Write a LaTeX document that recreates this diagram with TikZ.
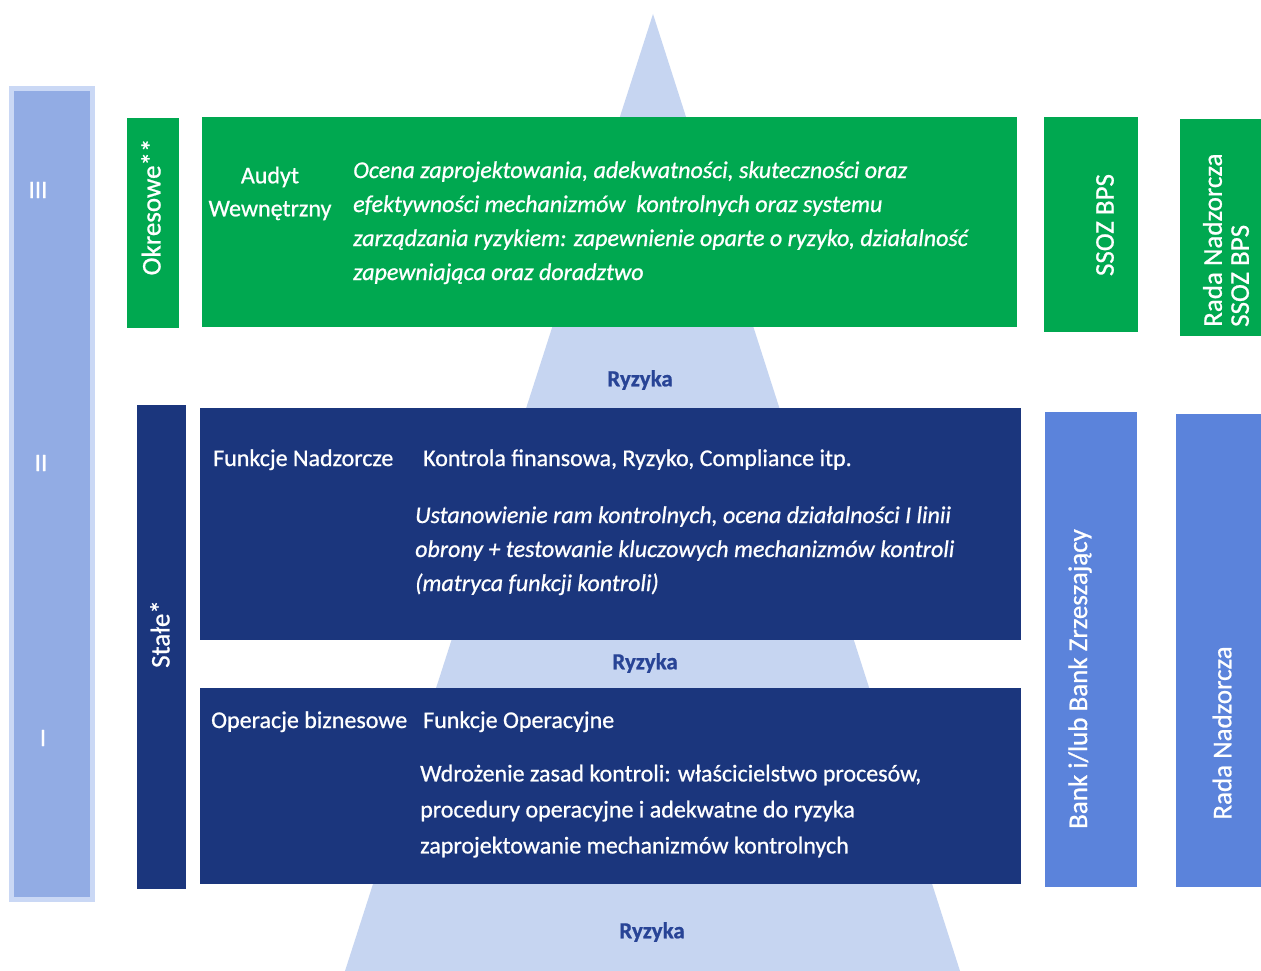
\documentclass[tikz,border=0pt]{standalone}
\usepackage{fontspec}
\setmainfont{Carlito}[FakeBold=0.8]
\definecolor{cgreen}{RGB}{0,168,80}
\definecolor{cnavy}{RGB}{27,54,125}
\definecolor{cmid}{RGB}{91,131,219}
\definecolor{cbar}{RGB}{146,172,228}
\definecolor{cbarb}{RGB}{202,216,245}
\definecolor{cpyr}{RGB}{198,213,241}
\definecolor{cryz}{RGB}{40,68,150}
\begin{document}
\begin{tikzpicture}[x=1pt,y=-1pt,
  box/.style={rectangle, inner sep=0pt, outer sep=0pt, anchor=north west},
  wtxt/.style={text=white, inner sep=0pt, font=\fontsize{24}{34}\selectfont},
  rtxt/.style={text=white, inner sep=0pt, rotate=90, font=\fontsize{27}{27}\selectfont},
  ryz/.style={text=cryz, inner sep=0pt, font=\fontsize{23}{28}\selectfont\bfseries},
  roman/.style={text=white, inner sep=0pt, font=\fontsize{25}{28}\selectfont}]
\useasboundingbox (0,0) rectangle (1261,971);
\fill[white] (0,0) rectangle (1261,971);
% pyramid
\coordinate (apex) at (653,14);
\coordinate (bl) at (345,971);
\coordinate (br) at (960,971);
\fill[cpyr] (apex) -- (br) -- (bl) -- cycle;
% left level bar
\node[box, anchor=center, fill=cbar, draw=cbarb, line width=5pt, minimum width=81pt, minimum height=811pt] (lines) at (52,494) {};
\node[roman] (l3) at (38,190) {III};
\node[roman] (l2) at (41,463) {II};
\node[roman] (l1) at (43,738) {I};
% green row
\node[box, fill=cgreen, minimum width=52pt, minimum height=210pt] (okres) at (127,118) {};
\node[box, fill=cgreen, minimum width=815pt, minimum height=210pt] (audit) at (202,117) {};
\node[box, fill=cgreen, minimum width=94pt, minimum height=215pt] (ssoz) at (1044,117) {};
\node[box, fill=cgreen, minimum width=90pt, minimum height=217pt] (radassoz) at (1180,119) {};
% navy rows
\node[box, fill=cnavy, minimum width=49pt, minimum height=484pt] (stale) at (137,405) {};
\node[box, fill=cnavy, minimum width=821pt, minimum height=232pt] (nadz) at (200,408) {};
\node[box, fill=cnavy, minimum width=821pt, minimum height=196pt] (oper) at (200,688) {};
% blue right columns
\node[box, fill=cmid, minimum width=92pt, minimum height=475pt] (bank) at (1045,412) {};
\node[box, fill=cmid, minimum width=95pt, minimum height=473pt] (rada) at (1176,414) {};
% rotated labels
\node[rtxt] (okrest) at (151,207) {Okresowe**};
\node[rtxt] (stalet) at (160,634) {Stałe*};
\node[rtxt] (ssozt) at (1105,225) {SSOZ BPS};
\node[rtxt, align=left, anchor=west] (radassozt) at (1226,327) {Rada Nadzorcza\\SSOZ BPS};
\node[rtxt] (bankt) at (1080,679) {Bank i/lub Bank Zrzeszający};
\node[rtxt] (radat) at (1222,733) {Rada Nadzorcza};
% green box texts
\node[wtxt, align=center, anchor=north, font=\fontsize{24}{33}\selectfont] (auditt) at (270,160) {\strut Audyt\\Wewnętrzny};
\node[wtxt, align=left, anchor=north west, font=\fontsize{24}{34}\selectfont\itshape] (auditd) at (353,154) {\strut Ocena zaprojektowania, adekwatności, skuteczności oraz\\efektywności mechanizmów\ \ kontrolnych oraz systemu\\zarządzania ryzykiem: zapewnienie oparte o ryzyko, działalność\\zapewniająca oraz doradztwo};
% navy box 1 texts
\node[wtxt, anchor=base west] (nadzt) at (213,466) {Funkcje Nadzorcze};
\node[wtxt, anchor=base west] (nadzk) at (423,466) {Kontrola finansowa, Ryzyko, Compliance itp.};
\node[wtxt, align=left, anchor=north west, font=\fontsize{24}{34}\selectfont\itshape] (nadzd) at (415,499) {\strut Ustanowienie ram kontrolnych, ocena działalności I linii\\obrony + testowanie kluczowych mechanizmów kontroli\\(matryca funkcji kontroli)};
% navy box 2 texts
\node[wtxt, anchor=base west] (opert) at (211,728) {Operacje biznesowe};
\node[wtxt, anchor=base west] (operf) at (423,728) {Funkcje Operacyjne};
\node[wtxt, align=left, anchor=north west, font=\fontsize{24}{36}\selectfont] (operd) at (420,756) {\strut Wdrożenie zasad kontroli: właścicielstwo procesów,\\procedury operacyjne i adekwatne do ryzyka\\zaprojektowanie mechanizmów kontrolnych};
% risks
\node[ryz] (ryz3) at (640,380) {Ryzyka};
\node[ryz] (ryz2) at (645,663) {Ryzyka};
\node[ryz] (ryz1) at (652,932) {Ryzyka};
\end{tikzpicture}
\end{document}
